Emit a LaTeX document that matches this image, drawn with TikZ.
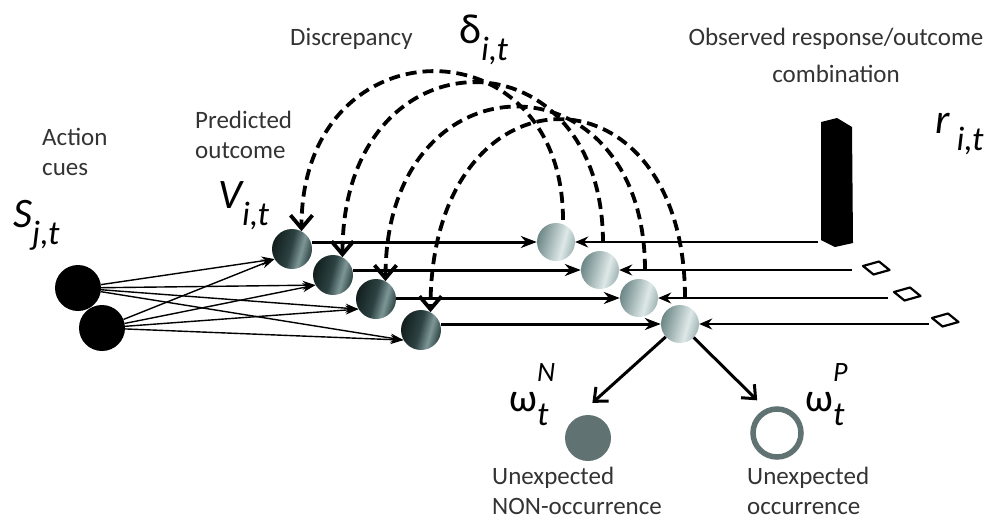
\documentclass[tikz,border=0pt]{standalone}
\usepackage{fontspec}
\setmainfont{Carlito}
\usetikzlibrary{arrows.meta, calc}

\definecolor{vdark}{RGB}{18,30,30}
\definecolor{vmid}{RGB}{45,66,66}
\definecolor{vlite}{RGB}{125,150,150}
\definecolor{ldark}{RGB}{108,134,134}
\definecolor{lmid}{RGB}{160,180,180}
\definecolor{llite}{RGB}{222,232,232}
\definecolor{outgray}{RGB}{96,114,114}

\pgfdeclarehorizontalshading{predball}{100bp}{color(0bp)=(vdark); color(25bp)=(vdark); color(48bp)=(vmid); color(62bp)=(vlite); color(75bp)=(vmid); color(100bp)=(vmid)}
\pgfdeclarehorizontalshading{discball}{100bp}{color(0bp)=(ldark); color(25bp)=(ldark); color(60bp)=(llite); color(75bp)=(lmid); color(100bp)=(lmid)}

\newcommand\lowsub[1]{\raisebox{-0.42em}{\fontsize{34}{36}\selectfont\itshape #1}}
\newcommand\supsub[2]{\makebox[0pt][l]{\raisebox{-0.35em}{\fontsize{34}{36}\selectfont\itshape #1}}\raisebox{0.75em}{\fontsize{28}{30}\selectfont\itshape #2}}

\begin{document}
\begin{tikzpicture}[x=1pt, y=-1pt,
    cue/.style={circle, fill=black, minimum size=46pt, inner sep=0pt},
    pred/.style={circle, shading=predball, shading angle=-15, minimum size=40pt, inner sep=0pt},
    disc/.style={circle, shading=discball, shading angle=-15, minimum size=38pt, inner sep=0pt},
    txt/.style={font=\fontsize{25}{30}\selectfont, text=black!80, inner sep=0pt, align=left},
    lbl/.style={font=\fontsize{42}{44}\selectfont\itshape, inner sep=0pt},
    weight/.style={line width=1.4pt, -{Stealth[length=13pt,width=9pt]}},
    fwd/.style={line width=3pt, -{Stealth[length=16pt,width=12pt]}},
    obs/.style={line width=1.8pt, -{Stealth[length=13pt,width=11pt]}},
    err/.style={line width=3.8pt, dash pattern=on 11pt off 6pt, -{Straight Barb[length=13pt,width=22pt]}},
    split/.style={line width=3pt, -{Straight Barb[length=11pt,width=19pt]}},
    cell/.style={fill=white, draw=black, line width=2.2pt, line join=round}]

    \useasboundingbox (0,0) rectangle (995,520);

    % Action cues
    \node[cue] (S1) at (78,288) {};
    \node[cue] (S2) at (102,328) {};

    % Predicted outcomes
    \node[pred] (V1) at (292,249) {};
    \node[pred] (V2) at (333,275) {};
    \node[pred] (V3) at (376,299) {};
    \node[pred] (V4) at (421,330) {};

    % Comparison of prediction and observation
    \node[disc] (L1) at (556,242) {};
    \node[disc] (L2) at (600,270) {};
    \node[disc] (L3) at (639,298) {};
    \node[disc] (L4) at (680,324) {};

    % Unexpected outcomes
    \node[circle, fill=outgray, minimum size=46pt, inner sep=0pt] (N) at (588,438) {};
    \node[circle, draw=outgray, line width=5.5pt, fill=white, minimum size=48pt, inner sep=0pt] (P) at (777,433) {};

    % Cue weights
    \foreach \s in {S1,S2}
        \foreach \v in {V1,V2,V3,V4}
            \draw[weight] (\s) -- (\v.210);

    % Predictions to comparison
    \draw[fwd] (V1.east |- L1) -- (L1);
    \draw[fwd] (V2.east |- L2) -- (L2);
    \draw[fwd] (V3.east |- L3) -- (L3);
    \draw[fwd] (V4.east |- L4) -- (L4);

    % Observed response/outcome combination
    \fill (821,122) -- (837,118) -- (852,127) -- (853,243) -- (835,247) -- (821,240) -- cycle;
    \draw[cell] (863,266) -- ++(16,-4.5) -- ++(10.5,8.5) -- ++(-16,4.5) -- cycle;
    \draw[cell] (894,292) -- ++(16,-4.5) -- ++(10.5,8.5) -- ++(-16,4.5) -- cycle;
    \draw[cell] (932,318) -- ++(16,-4.5) -- ++(10.5,8.5) -- ++(-16,4.5) -- cycle;
    \coordinate (r1) at (818,242);
    \coordinate (r2) at (852,270);
    \coordinate (r3) at (888,298);
    \coordinate (r4) at (929,324);
    \draw[obs] (r1) -- (L1);
    \draw[obs] (r2) -- (L2);
    \draw[obs] (r3) -- (L3);
    \draw[obs] (r4) -- (L4);

    % Discrepancy fed back to the predictions
    \draw[err] ([xshift=7pt,yshift=3pt]L1.north) .. controls +(0,-200) and +(0,-210) .. (V1.62);
    \draw[err] ([xshift=3pt,yshift=8pt]L2.north) .. controls +(0,-216) and +(0,-230) .. (V2.62);
    \draw[err] ([xshift=6pt,yshift=9pt]L3.north) .. controls +(0,-219) and +(0,-230) .. (V3.62);
    \draw[err] ([xshift=5pt,yshift=7pt]L4.north) .. controls +(0,-240) and +(0,-254) .. (V4.62);

    % Split into unexpected outcomes
    \draw[split, shorten >=28pt] (L4) -- (N.north west);
    \draw[split, shorten >=12pt] (L4) -- (P.115);

    % Labels
    \node[txt, anchor=base west] (cueTxt) at (42,175) {Action\\cues};
    \node[txt, anchor=base west] (predTxt) at (195,158) {Predicted\\outcome};
    \node[txt, anchor=base west] (discTxt) at (290,45) {Discrepancy};
    \node[txt, anchor=base, align=center] (obsTxt) at (836,82) {Observed response/outcome\\[7pt]combination};
    \node[txt, anchor=base west] (nonTxt) at (492,514) {Unexpected\\NON-occurrence};
    \node[txt, anchor=base west] (occTxt) at (747,514) {Unexpected\\occurrence};

    \node[lbl, anchor=base west] (Slab) at (13,227) {S\lowsub{j,t}};
    \node[lbl, anchor=base west] (Vlab) at (218,208) {V\lowsub{i,t}};
    \node[lbl, anchor=base west, font=\fontsize{42}{44}\selectfont] (dlab) at (459,43) {δ\lowsub{i,t}};
    \node[lbl, anchor=base west] (rlab) at (935,133) {r\,\lowsub{i,t}};
    \node[lbl, anchor=base west, font=\fontsize{40}{44}\selectfont] (wN) at (509,411) {ω\supsub{t}{N}};
    \node[lbl, anchor=base west, font=\fontsize{40}{44}\selectfont] (wP) at (805,411) {ω\supsub{t}{P}};
\end{tikzpicture}
\end{document}
